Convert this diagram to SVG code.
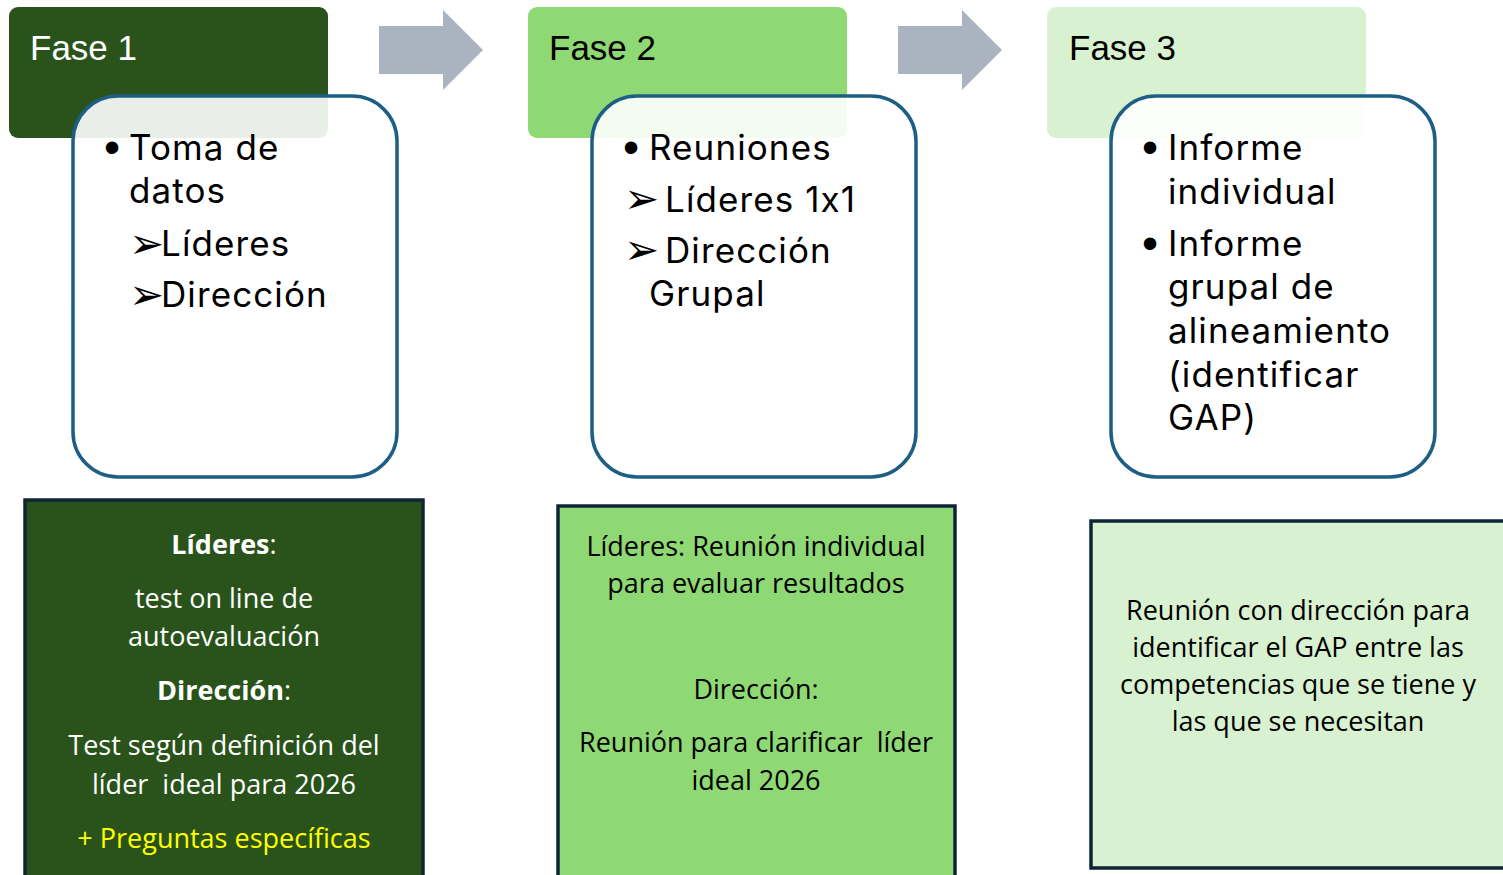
<svg xmlns="http://www.w3.org/2000/svg" width="1503" height="875" viewBox="0 0 1503 875">
<style>
.hdr{font-family:"Liberation Sans",Arial,sans-serif;font-size:35px}
.bt{font-family:Inter,"Liberation Sans",Arial,sans-serif;font-size:35px;letter-spacing:1.1px;font-feature-settings:"calt" 0;fill:#000}
.bl{font-family:"Liberation Sans",Arial,sans-serif;font-size:46px;fill:#000}
.ar{font-family:"DejaVu Sans",sans-serif;font-size:42px;fill:#000}
.card{fill:#fff;fill-opacity:0.9;stroke:#1d5f84;stroke-width:3.5}
.low{font-family:"Open Sans","Liberation Sans",sans-serif;font-size:27px;text-anchor:middle}
.bx{stroke:#0e2537;stroke-width:3.5}
.conn{fill:#a9b4c0}
</style>
<g id="connectors">
<polygon class="conn" points="379,26 443,26 443,10 483,50 443,90 443,74 379,74"/>
<polygon class="conn" points="898,26 962,26 962,10 1002,50 962,90 962,74 898,74"/>
</g>
<g id="fase1">
<rect x="9" y="7" width="319" height="131" rx="9" fill="#29531a"/>
<text class="hdr" x="30" y="60" fill="#fff">Fase 1</text>
<rect class="card" x="73" y="96" width="324" height="381" rx="45"/>
<text class="bl" x="104" y="163">•</text>
<text class="bt" x="129" y="160">Toma de</text>
<text class="bt" x="129" y="203">datos</text>
<text class="ar" x="129" y="258">➢</text>
<text class="bt" x="161" y="256">Líderes</text>
<text class="ar" x="129" y="309">➢</text>
<text class="bt" x="161" y="307">Dirección</text>
</g>
<g id="fase2">
<rect x="528" y="7" width="319" height="131" rx="9" fill="#8fd974"/>
<text class="hdr" x="549" y="60" fill="#000">Fase 2</text>
<rect class="card" x="592" y="96" width="324" height="381" rx="45"/>
<text class="bl" x="623" y="163">•</text>
<text class="bt" x="649" y="160">Reuniones</text>
<text class="ar" x="624" y="213">➢</text>
<text class="bt" x="665" y="212">Líderes 1x1</text>
<text class="ar" x="624" y="264">➢</text>
<text class="bt" x="665" y="263">Dirección</text>
<text class="bt" x="649" y="306">Grupal</text>
</g>
<g id="fase3">
<rect x="1047" y="7" width="319" height="131" rx="9" fill="#d8f1d0"/>
<text class="hdr" x="1069" y="60" fill="#000">Fase 3</text>
<rect class="card" x="1111" y="96" width="324" height="381" rx="45"/>
<text class="bl" x="1142" y="163">•</text>
<text class="bt" x="1168" y="160">Informe</text>
<text class="bt" x="1168" y="204">individual</text>
<text class="bl" x="1142" y="259">•</text>
<text class="bt" x="1168" y="256">Informe</text>
<text class="bt" x="1168" y="299">grupal de</text>
<text class="bt" x="1168" y="343">alineamiento</text>
<text class="bt" x="1168" y="387">(identificar</text>
<text class="bt" x="1168" y="430">GAP)</text>
</g>
<g id="detalle1">
<rect class="bx" x="25" y="500" width="398" height="380" fill="#29531a"/>
<text class="low" x="224" y="554" fill="#fff"><tspan font-weight="bold">Líderes</tspan>:</text>
<text class="low" x="224" y="608" fill="#fff">test on line de</text>
<text class="low" x="224" y="646" fill="#fff">autoevaluación</text>
<text class="low" x="224" y="700" fill="#fff"><tspan font-weight="bold">Dirección</tspan>:</text>
<text class="low" x="224" y="755" fill="#fff">Test según definición del</text>
<text class="low" x="224" y="794" fill="#fff" xml:space="preserve">líder  ideal para 2026</text>
<text class="low" x="224" y="848" fill="#ffff00">+ Preguntas específicas</text>
</g>
<g id="detalle2">
<rect class="bx" x="558" y="506" width="397" height="374" fill="#8fd974"/>
<text class="low" x="756" y="556" fill="#000">Líderes: Reunión individual</text>
<text class="low" x="756" y="593" fill="#000">para evaluar resultados</text>
<text class="low" x="756" y="699" fill="#000">Dirección:</text>
<text class="low" x="756" y="752" fill="#000" xml:space="preserve">Reunión para clarificar  líder</text>
<text class="low" x="756" y="790" fill="#000">ideal 2026</text>
</g>
<g id="detalle3">
<rect class="bx" x="1091" y="521" width="420" height="347" fill="#d8f1d0"/>
<text class="low" x="1298" y="620" fill="#000">Reunión con dirección para</text>
<text class="low" x="1298" y="657" fill="#000">identificar el GAP entre las</text>
<text class="low" x="1298" y="694" fill="#000">competencias que se tiene y</text>
<text class="low" x="1298" y="731" fill="#000">las que se necesitan</text>
</g>
</svg>
